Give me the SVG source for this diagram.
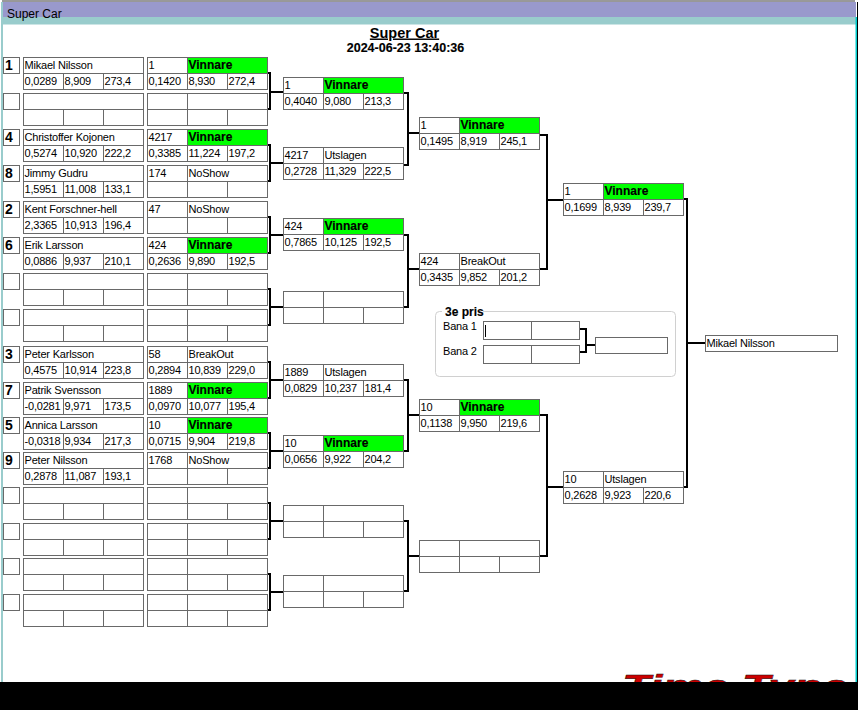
<svg xmlns="http://www.w3.org/2000/svg" width="858" height="710" viewBox="0 0 858 710">
<style>
text{font-family:"Liberation Sans",Arial,sans-serif;font-size:11px;letter-spacing:-.2px;fill:#000}
.b{font-weight:bold;font-size:12px;letter-spacing:0;stroke:#000;stroke-width:.15}
.s{font-weight:bold;font-size:14px;letter-spacing:0}
.box{fill:#fff;stroke:#696969;stroke-width:1;shape-rendering:crispEdges}
.ln{stroke:#696969;stroke-width:1;fill:none;shape-rendering:crispEdges}
.c{fill:none;stroke:#000;stroke-width:2.500;shape-rendering:crispEdges}
</style>
<defs>
<g id="n"><rect class="box" width="120" height="32"/><path class="ln" d="M0 16H120M40 16V32M80 16V32"/></g>
<g id="r"><rect class="box" width="120" height="32"/><path class="ln" d="M0 16H120M40 0V32M80 16V32"/></g>
<g id="w"><rect class="box" width="120" height="32"/><rect x="40" width="80" height="16" fill="#00ff00"/><path class="ln" d="M0 0H120M120 0V16M0 16H120M40 0V32M80 16V32"/></g>
<rect id="k" class="box" width="16" height="16"/>
</defs>
<rect width="858" height="710" fill="#fff"/>
<g id="window">
<path d="M2 1H855" stroke="#333" stroke-width="1"/>
<rect x="2" y="2" width="854" height="15" fill="#9999cc"/>
<rect x="2" y="17" width="854" height="7.500" fill="#99cccc"/>
<rect x="1" y="2" width="2" height="680" fill="#99cccc"/>
<rect x="855.500" y="17" width="1.500" height="665" fill="#00cccc"/>
<rect x="857" y="2" width="1" height="680" fill="#000"/>
<text x="7" y="18" style="font-size:12px;letter-spacing:0">Super Car</text>
</g>
<text x="404.500" y="37.500" text-anchor="middle" style="font-weight:bold;font-size:14.500px;letter-spacing:0;text-decoration:underline">Super Car</text>
<text x="405.500" y="52" text-anchor="middle" class="b" style="font-size:12.500px">2024-06-23 13:40:36</text>

<g id="connectors">
<path class="c" d="M268 73H270V109H268M270 92H283"/>
<path class="c" d="M268 145H270V181H268M270 163H283"/>
<path class="c" d="M268 217H270V253H268M270 235H283"/>
<path class="c" d="M268 289H270V325H268M270 307H283"/>
<path class="c" d="M268 362H270V398H268M270 380H283"/>
<path class="c" d="M268 433H270V468H268M270 451H283"/>
<path class="c" d="M268 503H270V539H268M270 521H283"/>
<path class="c" d="M268 574H270V610H268M270 592H283"/>
<path class="c" d="M404 93H408V165H404M408 133H419"/>
<path class="c" d="M404 235H408V307H404M408 269H419"/>
<path class="c" d="M404 380H408V451H404M408 415H419"/>
<path class="c" d="M404 521H408V591H404M408 556H419"/>
<path class="c" d="M540 135H547V269H540M547 200H563"/>
<path class="c" d="M540 415H547V556H540M547 487H563"/>
<path class="c" d="M684 199H687V487H684M687 343H705"/>
<path class="c" d="M580 329H586V352H580M586 345H595"/>
</g>

<g id="seeds">
<g id="s1" transform="translate(3.500,57.500)"><use href="#k"/><text class="s" x="1.500" y="12">1</text></g>
<g id="s2" transform="translate(3.500,93.500)"><use href="#k"/></g>
<g id="s3" transform="translate(3.500,129.500)"><use href="#k"/><text class="s" x="1.500" y="12">4</text></g>
<g id="s4" transform="translate(3.500,165.500)"><use href="#k"/><text class="s" x="1.500" y="12">8</text></g>
<g id="s5" transform="translate(3.500,201.500)"><use href="#k"/><text class="s" x="1.500" y="12">2</text></g>
<g id="s6" transform="translate(3.500,237.500)"><use href="#k"/><text class="s" x="1.500" y="12">6</text></g>
<g id="s7" transform="translate(3.500,273.500)"><use href="#k"/></g>
<g id="s8" transform="translate(3.500,309.500)"><use href="#k"/></g>
<g id="s9" transform="translate(3.500,346.500)"><use href="#k"/><text class="s" x="1.500" y="12">3</text></g>
<g id="s10" transform="translate(3.500,382.500)"><use href="#k"/><text class="s" x="1.500" y="12">7</text></g>
<g id="s11" transform="translate(3.500,417.500)"><use href="#k"/><text class="s" x="1.500" y="12">5</text></g>
<g id="s12" transform="translate(3.500,452.500)"><use href="#k"/><text class="s" x="1.500" y="12">9</text></g>
<g id="s13" transform="translate(3.500,487.500)"><use href="#k"/></g>
<g id="s14" transform="translate(3.500,523.500)"><use href="#k"/></g>
<g id="s15" transform="translate(3.500,558.500)"><use href="#k"/></g>
<g id="s16" transform="translate(3.500,594.500)"><use href="#k"/></g>
</g>

<g id="n1" transform="translate(23.500,57.500)"><use href="#n"/><text x="1" y="11.500">Mikael Nilsson</text><text x="1" y="27.500">0,0289</text><text x="41" y="27.500">8,909</text><text x="81" y="27.500">273,4</text></g>
<g id="n2" transform="translate(23.500,93.500)"><use href="#n"/></g>
<g id="n3" transform="translate(23.500,129.500)"><use href="#n"/><text x="1" y="11.500">Christoffer Kojonen</text><text x="1" y="27.500">0,5274</text><text x="41" y="27.500">10,920</text><text x="81" y="27.500">222,2</text></g>
<g id="n4" transform="translate(23.500,165.500)"><use href="#n"/><text x="1" y="11.500">Jimmy Gudru</text><text x="1" y="27.500">1,5951</text><text x="41" y="27.500">11,008</text><text x="81" y="27.500">133,1</text></g>
<g id="n5" transform="translate(23.500,201.500)"><use href="#n"/><text x="1" y="11.500">Kent Forschner-hell</text><text x="1" y="27.500">2,3365</text><text x="41" y="27.500">10,913</text><text x="81" y="27.500">196,4</text></g>
<g id="n6" transform="translate(23.500,237.500)"><use href="#n"/><text x="1" y="11.500">Erik Larsson</text><text x="1" y="27.500">0,0886</text><text x="41" y="27.500">9,937</text><text x="81" y="27.500">210,1</text></g>
<g id="n7" transform="translate(23.500,273.500)"><use href="#n"/></g>
<g id="n8" transform="translate(23.500,309.500)"><use href="#n"/></g>
<g id="n9" transform="translate(23.500,346.500)"><use href="#n"/><text x="1" y="11.500">Peter Karlsson</text><text x="1" y="27.500">0,4575</text><text x="41" y="27.500">10,914</text><text x="81" y="27.500">223,8</text></g>
<g id="n10" transform="translate(23.500,382.500)"><use href="#n"/><text x="1" y="11.500">Patrik Svensson</text><text x="1" y="27.500">-0,0281</text><text x="41" y="27.500">9,971</text><text x="81" y="27.500">173,5</text></g>
<g id="n11" transform="translate(23.500,417.500)"><use href="#n"/><text x="1" y="11.500">Annica Larsson</text><text x="1" y="27.500">-0,0318</text><text x="41" y="27.500">9,934</text><text x="81" y="27.500">217,3</text></g>
<g id="n12" transform="translate(23.500,452.500)"><use href="#n"/><text x="1" y="11.500">Peter Nilsson</text><text x="1" y="27.500">0,2878</text><text x="41" y="27.500">11,087</text><text x="81" y="27.500">193,1</text></g>
<g id="n13" transform="translate(23.500,487.500)"><use href="#n"/></g>
<g id="n14" transform="translate(23.500,523.500)"><use href="#n"/></g>
<g id="n15" transform="translate(23.500,558.500)"><use href="#n"/></g>
<g id="n16" transform="translate(23.500,594.500)"><use href="#n"/></g>

<g id="q1" transform="translate(147.500,57.500)"><use href="#w"/><text x="1" y="11.500">1</text><text class="b" x="41" y="11.500">Vinnare</text><text x="1" y="27.500">0,1420</text><text x="41" y="27.500">8,930</text><text x="81" y="27.500">272,4</text></g>
<g id="q2" transform="translate(147.500,93.500)"><use href="#r"/></g>
<g id="q3" transform="translate(147.500,129.500)"><use href="#w"/><text x="1" y="11.500">4217</text><text class="b" x="41" y="11.500">Vinnare</text><text x="1" y="27.500">0,3385</text><text x="41" y="27.500">11,224</text><text x="81" y="27.500">197,2</text></g>
<g id="q4" transform="translate(147.500,165.500)"><use href="#r"/><text x="1" y="11.500">174</text><text x="41" y="11.500">NoShow</text></g>
<g id="q5" transform="translate(147.500,201.500)"><use href="#r"/><text x="1" y="11.500">47</text><text x="41" y="11.500">NoShow</text></g>
<g id="q6" transform="translate(147.500,237.500)"><use href="#w"/><text x="1" y="11.500">424</text><text class="b" x="41" y="11.500">Vinnare</text><text x="1" y="27.500">0,2636</text><text x="41" y="27.500">9,890</text><text x="81" y="27.500">192,5</text></g>
<g id="q7" transform="translate(147.500,273.500)"><use href="#r"/></g>
<g id="q8" transform="translate(147.500,309.500)"><use href="#r"/></g>
<g id="q9" transform="translate(147.500,346.500)"><use href="#r"/><text x="1" y="11.500">58</text><text x="41" y="11.500">BreakOut</text><text x="1" y="27.500">0,2894</text><text x="41" y="27.500">10,839</text><text x="81" y="27.500">229,0</text></g>
<g id="q10" transform="translate(147.500,382.500)"><use href="#w"/><text x="1" y="11.500">1889</text><text class="b" x="41" y="11.500">Vinnare</text><text x="1" y="27.500">0,0970</text><text x="41" y="27.500">10,077</text><text x="81" y="27.500">195,4</text></g>
<g id="q11" transform="translate(147.500,417.500)"><use href="#w"/><text x="1" y="11.500">10</text><text class="b" x="41" y="11.500">Vinnare</text><text x="1" y="27.500">0,0715</text><text x="41" y="27.500">9,904</text><text x="81" y="27.500">219,8</text></g>
<g id="q12" transform="translate(147.500,452.500)"><use href="#r"/><text x="1" y="11.500">1768</text><text x="41" y="11.500">NoShow</text></g>
<g id="q13" transform="translate(147.500,487.500)"><use href="#r"/></g>
<g id="q14" transform="translate(147.500,523.500)"><use href="#r"/></g>
<g id="q15" transform="translate(147.500,558.500)"><use href="#r"/></g>
<g id="q16" transform="translate(147.500,594.500)"><use href="#r"/></g>

<g id="h1" transform="translate(283.500,77.500)"><use href="#w"/><text x="1" y="11.500">1</text><text class="b" x="41" y="11.500">Vinnare</text><text x="1" y="27.500">0,4040</text><text x="41" y="27.500">9,080</text><text x="81" y="27.500">213,3</text></g>
<g id="h2" transform="translate(283.500,147.500)"><use href="#r"/><text x="1" y="11.500">4217</text><text x="41" y="11.500">Utslagen</text><text x="1" y="27.500">0,2728</text><text x="41" y="27.500">11,329</text><text x="81" y="27.500">222,5</text></g>
<g id="h3" transform="translate(283.500,218.500)"><use href="#w"/><text x="1" y="11.500">424</text><text class="b" x="41" y="11.500">Vinnare</text><text x="1" y="27.500">0,7865</text><text x="41" y="27.500">10,125</text><text x="81" y="27.500">192,5</text></g>
<g id="h4" transform="translate(283.500,291.500)"><use href="#r"/></g>
<g id="h5" transform="translate(283.500,364.500)"><use href="#r"/><text x="1" y="11.500">1889</text><text x="41" y="11.500">Utslagen</text><text x="1" y="27.500">0,0829</text><text x="41" y="27.500">10,237</text><text x="81" y="27.500">181,4</text></g>
<g id="h6" transform="translate(283.500,435.500)"><use href="#w"/><text x="1" y="11.500">10</text><text class="b" x="41" y="11.500">Vinnare</text><text x="1" y="27.500">0,0656</text><text x="41" y="27.500">9,922</text><text x="81" y="27.500">204,2</text></g>
<g id="h7" transform="translate(283.500,505.500)"><use href="#r"/></g>
<g id="h8" transform="translate(283.500,575.500)"><use href="#r"/></g>

<g id="t1" transform="translate(419.500,117.500)"><use href="#w"/><text x="1" y="11.500">1</text><text class="b" x="41" y="11.500">Vinnare</text><text x="1" y="27.500">0,1495</text><text x="41" y="27.500">8,919</text><text x="81" y="27.500">245,1</text></g>
<g id="t2" transform="translate(419.500,253.500)"><use href="#r"/><text x="1" y="11.500">424</text><text x="41" y="11.500">BreakOut</text><text x="1" y="27.500">0,3435</text><text x="41" y="27.500">9,852</text><text x="81" y="27.500">201,2</text></g>
<g id="t3" transform="translate(419.500,399.500)"><use href="#w"/><text x="1" y="11.500">10</text><text class="b" x="41" y="11.500">Vinnare</text><text x="1" y="27.500">0,1138</text><text x="41" y="27.500">9,950</text><text x="81" y="27.500">219,6</text></g>
<g id="t4" transform="translate(419.500,540.500)"><use href="#r"/></g>

<g id="f1" transform="translate(563.500,183.500)"><use href="#w"/><text x="1" y="11.500">1</text><text class="b" x="41" y="11.500">Vinnare</text><text x="1" y="27.500">0,1699</text><text x="41" y="27.500">8,939</text><text x="81" y="27.500">239,7</text></g>
<g id="f2" transform="translate(563.500,471.500)"><use href="#r"/><text x="1" y="11.500">10</text><text x="41" y="11.500">Utslagen</text><text x="1" y="27.500">0,2628</text><text x="41" y="27.500">9,923</text><text x="81" y="27.500">220,6</text></g>

<g id="winner" transform="translate(705.500,335.500)"><rect class="box" width="132" height="16"/><text x="1" y="11.500">Mikael Nilsson</text></g>

<g id="third">
<rect x="435.500" y="311.500" width="240" height="65" rx="4" fill="none" stroke="#d0d0d0"/>
<rect x="442" y="306" width="41" height="12" fill="#fff"/>
<text class="b" x="445" y="316">3e pris</text>
<text x="443" y="330">Bana 1</text>
<text x="443" y="355">Bana 2</text>
<g id="b1" transform="translate(483.500,321.500)"><rect class="box" width="96" height="18"/><path class="ln" d="M48 0V18"/><path d="M2 3V15" stroke="#000" stroke-width="1" shape-rendering="crispEdges"/></g>
<g id="b2" transform="translate(483.500,345.500)"><rect class="box" width="96" height="18"/><path class="ln" d="M48 0V18"/></g>
<g id="b3" transform="translate(595.500,337.500)"><rect class="box" width="72" height="16"/></g>
</g>

<g id="logo">
<text x="622" y="698" textLength="226" lengthAdjust="spacingAndGlyphs" style="font-family:'Liberation Sans',sans-serif;font-size:33px;letter-spacing:0;font-weight:bold;font-style:italic;fill:#cc0000;stroke:#111;stroke-width:.4">Time Type</text>
</g>
<rect id="bottom" x="0" y="682" width="858" height="28" fill="#000"/>
</svg>
